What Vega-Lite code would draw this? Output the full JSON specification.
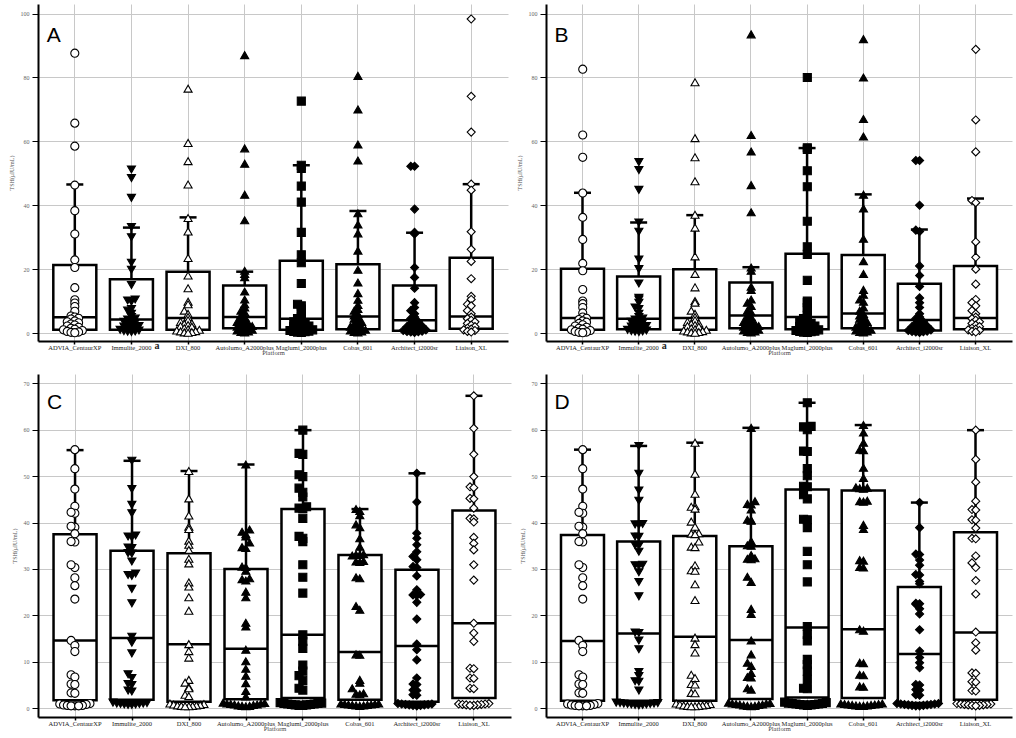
{
"$schema": "https://vega.github.io/schema/vega-lite/v6.json",
"background": "white",
"padding": {"left": 8, "top": 4, "right": 2, "bottom": 0},
"config": {
 "view": {"stroke": null},
 "axis": {"labelFont": "Liberation Serif", "titleFont": "Liberation Serif", "titleFontWeight": "normal", "gridColor": "#c8c8c8", "gridWidth": 1, "domainColor": "#000000", "domainWidth": 2, "tickColor": "#000000"},
 "axisX": {"labelFontSize": 6.5, "labelColor": "#222222", "labelPadding": 0, "tickSize": 3, "tickWidth": 1.5, "bandPosition": 0.5, "titleFontSize": 6.5, "titlePadding": -1, "titleColor": "#444444", "labelAngle": 0, "labelLimit": 200, "labelOverlap": false, "grid": true},
 "axisY": {"labelFontSize": 6, "labelColor": "#666666", "titleFontSize": 6, "titleColor": "#555555", "labelPadding": 3, "titlePadding": 6}
},
"datasets": {
 "plat": [{"c":"AD","g":"ADVIA_CentaurXP"},{"c":"IM","g":"Immulite_2000"},{"c":"DX","g":"DXI_800"},{"c":"AU","g":"Autolumo_A2000plus"},{"c":"MA","g":"Maglumi_2000plus"},{"c":"CO","g":"Cobas_601"},{"c":"AR","g":"Architect_i2000sr"},{"c":"LI","g":"Liaison_XL"}],
 "box": [
  {"p":"A","g":"ADVIA_CentaurXP","q1":1.0,"med":4.9,"q3":21.3,"hi":46.5},
  {"p":"A","g":"Immulite_2000","q1":1.0,"med":4.2,"q3":16.8,"hi":33.0},
  {"p":"A","g":"DXI_800","q1":1.0,"med":4.7,"q3":19.2,"hi":36.2},
  {"p":"A","g":"Autolumo_A2000plus","q1":1.5,"med":5.0,"q3":14.9,"hi":19.2},
  {"p":"A","g":"Maglumi_2000plus","q1":1.0,"med":4.5,"q3":22.6,"hi":52.5},
  {"p":"A","g":"Cobas_601","q1":1.2,"med":5.2,"q3":21.5,"hi":38.2},
  {"p":"A","g":"Architect_i2000sr","q1":0.7,"med":4.0,"q3":14.9,"hi":31.4},
  {"p":"A","g":"Liaison_XL","q1":1.3,"med":5.2,"q3":23.6,"hi":46.6},
  {"p":"B","g":"ADVIA_CentaurXP","q1":1.0,"med":4.7,"q3":20.1,"hi":43.9},
  {"p":"B","g":"Immulite_2000","q1":1.2,"med":4.5,"q3":17.7,"hi":34.6},
  {"p":"B","g":"DXI_800","q1":1.0,"med":4.7,"q3":20.0,"hi":36.9},
  {"p":"B","g":"Autolumo_A2000plus","q1":1.5,"med":5.5,"q3":15.8,"hi":20.6},
  {"p":"B","g":"Maglumi_2000plus","q1":1.2,"med":5.0,"q3":24.8,"hi":57.9},
  {"p":"B","g":"Cobas_601","q1":1.5,"med":6.1,"q3":24.4,"hi":43.4},
  {"p":"B","g":"Architect_i2000sr","q1":0.8,"med":4.1,"q3":15.4,"hi":32.4},
  {"p":"B","g":"Liaison_XL","q1":1.2,"med":4.7,"q3":21.0,"hi":42.1},
  {"p":"C","g":"ADVIA_CentaurXP","q1":1.7,"med":14.6,"q3":37.5,"hi":55.6},
  {"p":"C","g":"Immulite_2000","q1":1.8,"med":15.1,"q3":33.9,"hi":53.3},
  {"p":"C","g":"DXI_800","q1":1.4,"med":13.8,"q3":33.4,"hi":51.1},
  {"p":"C","g":"Autolumo_A2000plus","q1":1.9,"med":12.8,"q3":30.0,"hi":52.5},
  {"p":"C","g":"Maglumi_2000plus","q1":2.2,"med":15.8,"q3":42.9,"hi":59.9},
  {"p":"C","g":"Cobas_601","q1":1.8,"med":12.1,"q3":33.0,"hi":42.9},
  {"p":"C","g":"Architect_i2000sr","q1":1.4,"med":13.4,"q3":29.8,"hi":50.6},
  {"p":"C","g":"Liaison_XL","q1":2.2,"med":18.3,"q3":42.6,"hi":67.3},
  {"p":"D","g":"ADVIA_CentaurXP","q1":1.6,"med":14.5,"q3":37.3,"hi":55.7},
  {"p":"D","g":"Immulite_2000","q1":1.6,"med":16.1,"q3":35.9,"hi":56.5},
  {"p":"D","g":"DXI_800","q1":1.6,"med":15.4,"q3":37.1,"hi":57.2},
  {"p":"D","g":"Autolumo_A2000plus","q1":2.0,"med":14.7,"q3":34.9,"hi":60.4},
  {"p":"D","g":"Maglumi_2000plus","q1":2.3,"med":17.4,"q3":47.1,"hi":65.8},
  {"p":"D","g":"Cobas_601","q1":2.2,"med":17.0,"q3":46.9,"hi":61.0},
  {"p":"D","g":"Architect_i2000sr","q1":1.1,"med":11.7,"q3":26.1,"hi":44.3},
  {"p":"D","g":"Liaison_XL","q1":1.8,"med":16.3,"q3":37.9,"hi":59.9}
 ],
 "A": [
  {"c":"AD","v":87.6},{"c":"AD","v":65.7},{"c":"AD","v":58.5},{"c":"AD","v":46.3},{"c":"AD","v":38.3},{"c":"AD","v":31.0},{"c":"AD","v":22.9},{"c":"AD","v":20.5},{"c":"AD","v":14.2},{"c":"AD","v":10.4},{"c":"AD","v":9.4},{"c":"AD","v":8.3},{"c":"AD","v":6.8},{"c":"AD","v":5.3},{"c":"AD","v":5.0},{"c":"AD","v":4.6},{"c":"AD","v":4.4},{"c":"AD","v":3.8},{"c":"AD","v":3.5},{"c":"AD","v":3.2},{"c":"AD","v":2.8},{"c":"AD","v":2.5},{"c":"AD","v":2.2},{"c":"AD","v":1.8},{"c":"AD","v":1.5},{"c":"AD","v":1.2},{"c":"AD","v":1.0},{"c":"AD","v":0.8},{"c":"AD","v":0.5},{"c":"AD","v":0.3},{"c":"AD","v":0.2},{"c":"AD","v":0.1},
  {"c":"IM","v":51.2},{"c":"IM","v":48.5},{"c":"IM","v":42.3},{"c":"IM","v":33.2},{"c":"IM","v":30.0},{"c":"IM","v":22.0},{"c":"IM","v":19.8},{"c":"IM","v":15.0},{"c":"IM","v":10.5},{"c":"IM","v":10.2},{"c":"IM","v":9.8},{"c":"IM","v":7.5},{"c":"IM","v":7.0},{"c":"IM","v":6.0},{"c":"IM","v":5.0},{"c":"IM","v":4.5},{"c":"IM","v":4.2},{"c":"IM","v":4.0},{"c":"IM","v":3.5},{"c":"IM","v":3.2},{"c":"IM","v":3.0},{"c":"IM","v":2.6},{"c":"IM","v":2.2},{"c":"IM","v":2.0},{"c":"IM","v":1.8},{"c":"IM","v":1.5},{"c":"IM","v":1.2},{"c":"IM","v":1.0},{"c":"IM","v":0.8},{"c":"IM","v":0.6},{"c":"IM","v":0.5},{"c":"IM","v":0.4},{"c":"IM","v":0.3},
  {"c":"DX","v":76.5},{"c":"DX","v":59.5},{"c":"DX","v":53.8},{"c":"DX","v":46.5},{"c":"DX","v":36.0},{"c":"DX","v":31.8},{"c":"DX","v":23.5},{"c":"DX","v":18.0},{"c":"DX","v":14.0},{"c":"DX","v":9.8},{"c":"DX","v":9.0},{"c":"DX","v":7.0},{"c":"DX","v":6.0},{"c":"DX","v":5.0},{"c":"DX","v":4.0},{"c":"DX","v":3.5},{"c":"DX","v":3.0},{"c":"DX","v":2.8},{"c":"DX","v":2.5},{"c":"DX","v":2.2},{"c":"DX","v":2.0},{"c":"DX","v":1.5},{"c":"DX","v":1.2},{"c":"DX","v":1.0},{"c":"DX","v":0.8},{"c":"DX","v":0.6},{"c":"DX","v":0.5},{"c":"DX","v":0.3},{"c":"DX","v":0.2},{"c":"DX","v":0.1},
  {"c":"AU","v":87.0},{"c":"AU","v":57.8},{"c":"AU","v":53.0},{"c":"AU","v":43.3},{"c":"AU","v":35.3},{"c":"AU","v":19.5},{"c":"AU","v":18.5},{"c":"AU","v":17.5},{"c":"AU","v":13.0},{"c":"AU","v":10.5},{"c":"AU","v":9.0},{"c":"AU","v":8.0},{"c":"AU","v":7.0},{"c":"AU","v":6.5},{"c":"AU","v":5.5},{"c":"AU","v":5.0},{"c":"AU","v":4.5},{"c":"AU","v":4.0},{"c":"AU","v":3.5},{"c":"AU","v":3.0},{"c":"AU","v":2.8},{"c":"AU","v":2.5},{"c":"AU","v":2.2},{"c":"AU","v":2.0},{"c":"AU","v":1.8},{"c":"AU","v":1.5},{"c":"AU","v":1.2},{"c":"AU","v":1.0},{"c":"AU","v":0.8},{"c":"AU","v":0.5},{"c":"AU","v":0.3},{"c":"AU","v":0.2},
  {"c":"MA","v":72.6},{"c":"MA","v":52.5},{"c":"MA","v":51.5},{"c":"MA","v":46.0},{"c":"MA","v":41.0},{"c":"MA","v":31.5},{"c":"MA","v":24.5},{"c":"MA","v":22.0},{"c":"MA","v":15.5},{"c":"MA","v":9.0},{"c":"MA","v":8.5},{"c":"MA","v":7.5},{"c":"MA","v":6.5},{"c":"MA","v":5.0},{"c":"MA","v":4.5},{"c":"MA","v":4.0},{"c":"MA","v":3.5},{"c":"MA","v":3.0},{"c":"MA","v":2.8},{"c":"MA","v":2.5},{"c":"MA","v":2.2},{"c":"MA","v":2.0},{"c":"MA","v":1.8},{"c":"MA","v":1.5},{"c":"MA","v":1.2},{"c":"MA","v":1.0},{"c":"MA","v":0.8},{"c":"MA","v":0.6},{"c":"MA","v":0.5},{"c":"MA","v":0.4},{"c":"MA","v":0.3},{"c":"MA","v":0.2},
  {"c":"CO","v":80.5},{"c":"CO","v":70.0},{"c":"CO","v":59.0},{"c":"CO","v":54.0},{"c":"CO","v":37.5},{"c":"CO","v":34.0},{"c":"CO","v":31.2},{"c":"CO","v":25.8},{"c":"CO","v":19.8},{"c":"CO","v":15.8},{"c":"CO","v":12.5},{"c":"CO","v":10.4},{"c":"CO","v":8.8},{"c":"CO","v":7.5},{"c":"CO","v":7.0},{"c":"CO","v":6.0},{"c":"CO","v":5.5},{"c":"CO","v":5.0},{"c":"CO","v":4.5},{"c":"CO","v":4.0},{"c":"CO","v":3.5},{"c":"CO","v":3.0},{"c":"CO","v":2.5},{"c":"CO","v":2.0},{"c":"CO","v":1.8},{"c":"CO","v":1.5},{"c":"CO","v":1.2},{"c":"CO","v":1.0},{"c":"CO","v":0.8},{"c":"CO","v":0.5},{"c":"CO","v":0.3},{"c":"CO","v":0.2},
  {"c":"AR","v":52.2},{"c":"AR","v":52.2},{"c":"AR","v":38.8},{"c":"AR","v":31.0},{"c":"AR","v":31.5},{"c":"AR","v":20.5},{"c":"AR","v":17.4},{"c":"AR","v":14.0},{"c":"AR","v":9.5},{"c":"AR","v":8.0},{"c":"AR","v":7.0},{"c":"AR","v":6.0},{"c":"AR","v":5.0},{"c":"AR","v":4.5},{"c":"AR","v":4.0},{"c":"AR","v":3.5},{"c":"AR","v":3.0},{"c":"AR","v":2.5},{"c":"AR","v":2.2},{"c":"AR","v":2.0},{"c":"AR","v":1.8},{"c":"AR","v":1.5},{"c":"AR","v":1.2},{"c":"AR","v":1.0},{"c":"AR","v":0.8},{"c":"AR","v":0.6},{"c":"AR","v":0.5},{"c":"AR","v":0.4},{"c":"AR","v":0.3},{"c":"AR","v":0.2},
  {"c":"LI","v":98.3},{"c":"LI","v":74.1},{"c":"LI","v":62.9},{"c":"LI","v":46.6},{"c":"LI","v":44.7},{"c":"LI","v":31.7},{"c":"LI","v":26.2},{"c":"LI","v":22.4},{"c":"LI","v":17.0},{"c":"LI","v":11.5},{"c":"LI","v":10.5},{"c":"LI","v":9.0},{"c":"LI","v":8.5},{"c":"LI","v":7.0},{"c":"LI","v":6.0},{"c":"LI","v":5.0},{"c":"LI","v":4.5},{"c":"LI","v":4.0},{"c":"LI","v":3.5},{"c":"LI","v":3.0},{"c":"LI","v":2.5},{"c":"LI","v":2.0},{"c":"LI","v":1.5},{"c":"LI","v":1.2},{"c":"LI","v":1.0},{"c":"LI","v":0.8},{"c":"LI","v":0.5},{"c":"LI","v":0.3}
 ],
 "B": [
  {"c":"AD","v":82.6},{"c":"AD","v":62.0},{"c":"AD","v":55.0},{"c":"AD","v":43.8},{"c":"AD","v":36.2},{"c":"AD","v":29.3},{"c":"AD","v":21.8},{"c":"AD","v":19.5},{"c":"AD","v":13.6},{"c":"AD","v":10.0},{"c":"AD","v":9.2},{"c":"AD","v":8.0},{"c":"AD","v":6.3},{"c":"AD","v":5.0},{"c":"AD","v":4.6},{"c":"AD","v":4.2},{"c":"AD","v":3.8},{"c":"AD","v":3.4},{"c":"AD","v":3.0},{"c":"AD","v":2.6},{"c":"AD","v":2.2},{"c":"AD","v":1.8},{"c":"AD","v":1.5},{"c":"AD","v":1.2},{"c":"AD","v":1.0},{"c":"AD","v":0.8},{"c":"AD","v":0.5},{"c":"AD","v":0.3},{"c":"AD","v":0.2},{"c":"AD","v":0.1},
  {"c":"IM","v":53.5},{"c":"IM","v":51.0},{"c":"IM","v":44.8},{"c":"IM","v":34.6},{"c":"IM","v":31.7},{"c":"IM","v":23.0},{"c":"IM","v":20.0},{"c":"IM","v":15.5},{"c":"IM","v":11.0},{"c":"IM","v":10.5},{"c":"IM","v":9.5},{"c":"IM","v":8.0},{"c":"IM","v":7.5},{"c":"IM","v":6.0},{"c":"IM","v":5.0},{"c":"IM","v":4.5},{"c":"IM","v":4.2},{"c":"IM","v":4.0},{"c":"IM","v":3.5},{"c":"IM","v":3.2},{"c":"IM","v":3.0},{"c":"IM","v":2.6},{"c":"IM","v":2.2},{"c":"IM","v":2.0},{"c":"IM","v":1.8},{"c":"IM","v":1.5},{"c":"IM","v":1.2},{"c":"IM","v":1.0},{"c":"IM","v":0.8},{"c":"IM","v":0.6},{"c":"IM","v":0.5},{"c":"IM","v":0.4},{"c":"IM","v":0.3},
  {"c":"DX","v":78.5},{"c":"DX","v":61.0},{"c":"DX","v":55.0},{"c":"DX","v":47.5},{"c":"DX","v":37.0},{"c":"DX","v":33.0},{"c":"DX","v":24.0},{"c":"DX","v":18.5},{"c":"DX","v":14.3},{"c":"DX","v":10.0},{"c":"DX","v":9.5},{"c":"DX","v":7.0},{"c":"DX","v":6.0},{"c":"DX","v":5.0},{"c":"DX","v":4.0},{"c":"DX","v":3.5},{"c":"DX","v":3.0},{"c":"DX","v":2.8},{"c":"DX","v":2.5},{"c":"DX","v":2.2},{"c":"DX","v":2.0},{"c":"DX","v":1.5},{"c":"DX","v":1.2},{"c":"DX","v":1.0},{"c":"DX","v":0.8},{"c":"DX","v":0.6},{"c":"DX","v":0.5},{"c":"DX","v":0.3},{"c":"DX","v":0.2},{"c":"DX","v":0.1},
  {"c":"AU","v":93.5},{"c":"AU","v":62.0},{"c":"AU","v":56.8},{"c":"AU","v":46.3},{"c":"AU","v":37.8},{"c":"AU","v":20.5},{"c":"AU","v":19.5},{"c":"AU","v":14.5},{"c":"AU","v":13.5},{"c":"AU","v":10.5},{"c":"AU","v":9.5},{"c":"AU","v":8.5},{"c":"AU","v":7.0},{"c":"AU","v":6.5},{"c":"AU","v":5.5},{"c":"AU","v":5.0},{"c":"AU","v":4.5},{"c":"AU","v":4.0},{"c":"AU","v":3.5},{"c":"AU","v":3.0},{"c":"AU","v":2.8},{"c":"AU","v":2.5},{"c":"AU","v":2.2},{"c":"AU","v":2.0},{"c":"AU","v":1.8},{"c":"AU","v":1.5},{"c":"AU","v":1.2},{"c":"AU","v":1.0},{"c":"AU","v":0.8},{"c":"AU","v":0.5},{"c":"AU","v":0.3},{"c":"AU","v":0.2},
  {"c":"MA","v":80.0},{"c":"MA","v":58.0},{"c":"MA","v":57.5},{"c":"MA","v":50.8},{"c":"MA","v":45.8},{"c":"MA","v":35.0},{"c":"MA","v":27.0},{"c":"MA","v":24.6},{"c":"MA","v":16.5},{"c":"MA","v":10.0},{"c":"MA","v":9.5},{"c":"MA","v":8.0},{"c":"MA","v":7.0},{"c":"MA","v":5.5},{"c":"MA","v":4.5},{"c":"MA","v":4.0},{"c":"MA","v":3.5},{"c":"MA","v":3.0},{"c":"MA","v":2.8},{"c":"MA","v":2.5},{"c":"MA","v":2.2},{"c":"MA","v":2.0},{"c":"MA","v":1.8},{"c":"MA","v":1.5},{"c":"MA","v":1.2},{"c":"MA","v":1.0},{"c":"MA","v":0.8},{"c":"MA","v":0.6},{"c":"MA","v":0.5},{"c":"MA","v":0.4},{"c":"MA","v":0.3},{"c":"MA","v":0.2},
  {"c":"CO","v":92.0},{"c":"CO","v":80.0},{"c":"CO","v":67.0},{"c":"CO","v":61.5},{"c":"CO","v":43.3},{"c":"CO","v":39.0},{"c":"CO","v":29.5},{"c":"CO","v":22.5},{"c":"CO","v":18.5},{"c":"CO","v":13.5},{"c":"CO","v":12.0},{"c":"CO","v":10.5},{"c":"CO","v":9.8},{"c":"CO","v":8.0},{"c":"CO","v":7.0},{"c":"CO","v":6.0},{"c":"CO","v":5.5},{"c":"CO","v":5.0},{"c":"CO","v":4.5},{"c":"CO","v":4.0},{"c":"CO","v":3.5},{"c":"CO","v":3.0},{"c":"CO","v":2.5},{"c":"CO","v":2.0},{"c":"CO","v":1.8},{"c":"CO","v":1.5},{"c":"CO","v":1.2},{"c":"CO","v":1.0},{"c":"CO","v":0.8},{"c":"CO","v":0.5},{"c":"CO","v":0.3},{"c":"CO","v":0.2},
  {"c":"AR","v":54.0},{"c":"AR","v":54.0},{"c":"AR","v":40.0},{"c":"AR","v":32.2},{"c":"AR","v":31.8},{"c":"AR","v":21.0},{"c":"AR","v":18.0},{"c":"AR","v":14.6},{"c":"AR","v":11.0},{"c":"AR","v":9.5},{"c":"AR","v":8.0},{"c":"AR","v":6.0},{"c":"AR","v":5.0},{"c":"AR","v":4.5},{"c":"AR","v":4.0},{"c":"AR","v":3.5},{"c":"AR","v":3.0},{"c":"AR","v":2.5},{"c":"AR","v":2.2},{"c":"AR","v":2.0},{"c":"AR","v":1.8},{"c":"AR","v":1.5},{"c":"AR","v":1.2},{"c":"AR","v":1.0},{"c":"AR","v":0.8},{"c":"AR","v":0.6},{"c":"AR","v":0.5},{"c":"AR","v":0.4},{"c":"AR","v":0.3},{"c":"AR","v":0.2},
  {"c":"LI","v":88.8},{"c":"LI","v":66.7},{"c":"LI","v":56.7},{"c":"LI","v":41.5},{"c":"LI","v":40.8},{"c":"LI","v":28.5},{"c":"LI","v":23.7},{"c":"LI","v":20.0},{"c":"LI","v":15.3},{"c":"LI","v":10.5},{"c":"LI","v":9.5},{"c":"LI","v":8.5},{"c":"LI","v":7.0},{"c":"LI","v":6.0},{"c":"LI","v":5.0},{"c":"LI","v":4.5},{"c":"LI","v":4.0},{"c":"LI","v":3.5},{"c":"LI","v":3.0},{"c":"LI","v":2.5},{"c":"LI","v":2.0},{"c":"LI","v":1.5},{"c":"LI","v":1.2},{"c":"LI","v":1.0},{"c":"LI","v":0.8},{"c":"LI","v":0.5},{"c":"LI","v":0.3}
 ],
 "C": [
  {"c":"AD","v":55.7},{"c":"AD","v":51.6},{"c":"AD","v":47.2},{"c":"AD","v":43.5},{"c":"AD","v":42.0},{"c":"AD","v":42.2},{"c":"AD","v":39.0},{"c":"AD","v":39.2},{"c":"AD","v":37.6},{"c":"AD","v":35.8},{"c":"AD","v":35.9},{"c":"AD","v":30.3},{"c":"AD","v":30.9},{"c":"AD","v":28.1},{"c":"AD","v":26.4},{"c":"AD","v":23.5},{"c":"AD","v":14.6},{"c":"AD","v":13.5},{"c":"AD","v":12.2},{"c":"AD","v":7.2},{"c":"AD","v":6.7},{"c":"AD","v":5.2},{"c":"AD","v":5.1},{"c":"AD","v":3.3},{"c":"AD","v":3.2},{"c":"AD","v":1.0},{"c":"AD","v":0.9},{"c":"AD","v":0.8},{"c":"AD","v":0.7},{"c":"AD","v":0.6},{"c":"AD","v":0.6},{"c":"AD","v":0.5},{"c":"AD","v":0.5},{"c":"AD","v":0.5},
  {"c":"IM","v":53.3},{"c":"IM","v":47.2},{"c":"IM","v":43.8},{"c":"IM","v":42.0},{"c":"IM","v":37.0},{"c":"IM","v":36.8},{"c":"IM","v":37.2},{"c":"IM","v":34.6},{"c":"IM","v":34.5},{"c":"IM","v":33.4},{"c":"IM","v":33.3},{"c":"IM","v":31.6},{"c":"IM","v":28.7},{"c":"IM","v":28.5},{"c":"IM","v":29.0},{"c":"IM","v":25.7},{"c":"IM","v":22.6},{"c":"IM","v":15.4},{"c":"IM","v":14.1},{"c":"IM","v":11.8},{"c":"IM","v":7.3},{"c":"IM","v":6.5},{"c":"IM","v":5.2},{"c":"IM","v":5.0},{"c":"IM","v":3.6},{"c":"IM","v":3.8},{"c":"IM","v":1.2},{"c":"IM","v":1.1},{"c":"IM","v":1.0},{"c":"IM","v":1.0},{"c":"IM","v":0.9},{"c":"IM","v":0.9},{"c":"IM","v":0.8},{"c":"IM","v":0.8},{"c":"IM","v":0.7},{"c":"IM","v":0.7},
  {"c":"DX","v":51.1},{"c":"DX","v":45.2},{"c":"DX","v":41.5},{"c":"DX","v":39.1},{"c":"DX","v":38.6},{"c":"DX","v":36.1},{"c":"DX","v":35.2},{"c":"DX","v":34.1},{"c":"DX","v":32.2},{"c":"DX","v":31.2},{"c":"DX","v":27.1},{"c":"DX","v":26.2},{"c":"DX","v":23.9},{"c":"DX","v":21.0},{"c":"DX","v":13.8},{"c":"DX","v":12.3},{"c":"DX","v":10.9},{"c":"DX","v":6.1},{"c":"DX","v":5.5},{"c":"DX","v":4.5},{"c":"DX","v":4.3},{"c":"DX","v":2.9},{"c":"DX","v":2.6},{"c":"DX","v":1.0},{"c":"DX","v":0.9},{"c":"DX","v":0.8},{"c":"DX","v":0.7},{"c":"DX","v":0.6},{"c":"DX","v":0.6},{"c":"DX","v":0.5},{"c":"DX","v":0.5},{"c":"DX","v":0.4},{"c":"DX","v":0.4},
  {"c":"AU","v":52.5},{"c":"AU","v":38.5},{"c":"AU","v":38.0},{"c":"AU","v":37.5},{"c":"AU","v":37.0},{"c":"AU","v":35.7},{"c":"AU","v":34.7},{"c":"AU","v":34.5},{"c":"AU","v":30.5},{"c":"AU","v":30.4},{"c":"AU","v":29.6},{"c":"AU","v":28.0},{"c":"AU","v":27.8},{"c":"AU","v":27.5},{"c":"AU","v":25.1},{"c":"AU","v":23.9},{"c":"AU","v":18.4},{"c":"AU","v":17.6},{"c":"AU","v":12.6},{"c":"AU","v":10.1},{"c":"AU","v":8.5},{"c":"AU","v":7.0},{"c":"AU","v":5.4},{"c":"AU","v":3.7},{"c":"AU","v":2.5},{"c":"AU","v":1.2},{"c":"AU","v":1.1},{"c":"AU","v":1.0},{"c":"AU","v":1.0},{"c":"AU","v":0.9},{"c":"AU","v":0.8},{"c":"AU","v":0.8},{"c":"AU","v":0.7},{"c":"AU","v":0.6},{"c":"AU","v":0.5},{"c":"AU","v":0.5},{"c":"AU","v":0.4},
  {"c":"MA","v":59.9},{"c":"MA","v":54.9},{"c":"MA","v":54.7},{"c":"MA","v":50.3},{"c":"MA","v":49.9},{"c":"MA","v":47.4},{"c":"MA","v":46.5},{"c":"MA","v":45.5},{"c":"MA","v":43.4},{"c":"MA","v":43.1},{"c":"MA","v":43.0},{"c":"MA","v":40.9},{"c":"MA","v":37.0},{"c":"MA","v":36.6},{"c":"MA","v":35.9},{"c":"MA","v":30.9},{"c":"MA","v":28.2},{"c":"MA","v":24.8},{"c":"MA","v":15.8},{"c":"MA","v":14.4},{"c":"MA","v":12.9},{"c":"MA","v":9.3},{"c":"MA","v":8.0},{"c":"MA","v":7.0},{"c":"MA","v":6.0},{"c":"MA","v":4.3},{"c":"MA","v":3.9},{"c":"MA","v":1.2},{"c":"MA","v":1.1},{"c":"MA","v":1.0},{"c":"MA","v":1.0},{"c":"MA","v":0.9},{"c":"MA","v":0.9},{"c":"MA","v":0.8},{"c":"MA","v":0.8},{"c":"MA","v":0.7},{"c":"MA","v":0.7},{"c":"MA","v":0.6},{"c":"MA","v":0.6},
  {"c":"CO","v":42.9},{"c":"CO","v":42.5},{"c":"CO","v":41.6},{"c":"CO","v":39.6},{"c":"CO","v":39.0},{"c":"CO","v":36.6},{"c":"CO","v":34.8},{"c":"CO","v":33.0},{"c":"CO","v":33.1},{"c":"CO","v":32.9},{"c":"CO","v":33.2},{"c":"CO","v":31.6},{"c":"CO","v":31.5},{"c":"CO","v":31.7},{"c":"CO","v":28.0},{"c":"CO","v":28.2},{"c":"CO","v":21.2},{"c":"CO","v":22.0},{"c":"CO","v":11.5},{"c":"CO","v":11.6},{"c":"CO","v":6.1},{"c":"CO","v":5.5},{"c":"CO","v":4.3},{"c":"CO","v":3.2},{"c":"CO","v":3.1},{"c":"CO","v":3.0},{"c":"CO","v":1.0},{"c":"CO","v":1.0},{"c":"CO","v":0.9},{"c":"CO","v":0.9},{"c":"CO","v":0.8},{"c":"CO","v":0.8},{"c":"CO","v":0.7},{"c":"CO","v":0.7},{"c":"CO","v":0.6},{"c":"CO","v":0.6},{"c":"CO","v":0.5},
  {"c":"AR","v":50.6},{"c":"AR","v":44.4},{"c":"AR","v":37.7},{"c":"AR","v":36.6},{"c":"AR","v":35.2},{"c":"AR","v":33.7},{"c":"AR","v":32.7},{"c":"AR","v":32.0},{"c":"AR","v":30.5},{"c":"AR","v":30.3},{"c":"AR","v":28.5},{"c":"AR","v":25.5},{"c":"AR","v":24.4},{"c":"AR","v":24.3},{"c":"AR","v":24.5},{"c":"AR","v":22.8},{"c":"AR","v":19.2},{"c":"AR","v":13.8},{"c":"AR","v":12.6},{"c":"AR","v":10.4},{"c":"AR","v":6.5},{"c":"AR","v":5.2},{"c":"AR","v":5.1},{"c":"AR","v":3.9},{"c":"AR","v":3.8},{"c":"AR","v":2.9},{"c":"AR","v":2.8},{"c":"AR","v":1.0},{"c":"AR","v":0.9},{"c":"AR","v":0.9},{"c":"AR","v":0.8},{"c":"AR","v":0.8},{"c":"AR","v":0.7},{"c":"AR","v":0.7},{"c":"AR","v":0.6},{"c":"AR","v":0.6},{"c":"AR","v":0.5},
  {"c":"LI","v":67.3},{"c":"LI","v":60.3},{"c":"LI","v":54.7},{"c":"LI","v":49.9},{"c":"LI","v":47.7},{"c":"LI","v":47.5},{"c":"LI","v":45.2},{"c":"LI","v":45.1},{"c":"LI","v":43.1},{"c":"LI","v":40.9},{"c":"LI","v":40.8},{"c":"LI","v":40.1},{"c":"LI","v":36.8},{"c":"LI","v":35.5},{"c":"LI","v":34.1},{"c":"LI","v":30.9},{"c":"LI","v":27.6},{"c":"LI","v":18.3},{"c":"LI","v":16.2},{"c":"LI","v":14.4},{"c":"LI","v":8.6},{"c":"LI","v":8.5},{"c":"LI","v":6.5},{"c":"LI","v":6.4},{"c":"LI","v":4.3},{"c":"LI","v":4.2},{"c":"LI","v":1.0},{"c":"LI","v":0.9},{"c":"LI","v":0.9},{"c":"LI","v":0.8},{"c":"LI","v":0.8},{"c":"LI","v":0.7},{"c":"LI","v":0.7},{"c":"LI","v":0.6},{"c":"LI","v":0.6}
 ],
 "D": [
  {"c":"AD","v":55.7},{"c":"AD","v":51.6},{"c":"AD","v":47.2},{"c":"AD","v":43.5},{"c":"AD","v":42.0},{"c":"AD","v":42.2},{"c":"AD","v":39.0},{"c":"AD","v":39.2},{"c":"AD","v":37.6},{"c":"AD","v":35.8},{"c":"AD","v":35.9},{"c":"AD","v":30.3},{"c":"AD","v":30.9},{"c":"AD","v":28.1},{"c":"AD","v":26.4},{"c":"AD","v":23.5},{"c":"AD","v":14.6},{"c":"AD","v":13.5},{"c":"AD","v":12.2},{"c":"AD","v":7.2},{"c":"AD","v":6.7},{"c":"AD","v":5.2},{"c":"AD","v":5.1},{"c":"AD","v":3.3},{"c":"AD","v":3.2},{"c":"AD","v":1.0},{"c":"AD","v":0.9},{"c":"AD","v":0.8},{"c":"AD","v":0.7},{"c":"AD","v":0.6},{"c":"AD","v":0.6},{"c":"AD","v":0.5},{"c":"AD","v":0.5},{"c":"AD","v":0.5},
  {"c":"IM","v":56.5},{"c":"IM","v":50.5},{"c":"IM","v":46.9},{"c":"IM","v":44.7},{"c":"IM","v":39.6},{"c":"IM","v":39.5},{"c":"IM","v":39.7},{"c":"IM","v":37.0},{"c":"IM","v":36.9},{"c":"IM","v":35.1},{"c":"IM","v":35.0},{"c":"IM","v":33.7},{"c":"IM","v":30.8},{"c":"IM","v":30.7},{"c":"IM","v":30.9},{"c":"IM","v":29.3},{"c":"IM","v":27.2},{"c":"IM","v":24.1},{"c":"IM","v":16.3},{"c":"IM","v":16.2},{"c":"IM","v":14.6},{"c":"IM","v":12.7},{"c":"IM","v":7.8},{"c":"IM","v":6.9},{"c":"IM","v":5.8},{"c":"IM","v":5.7},{"c":"IM","v":3.8},{"c":"IM","v":1.2},{"c":"IM","v":1.1},{"c":"IM","v":1.1},{"c":"IM","v":1.0},{"c":"IM","v":1.0},{"c":"IM","v":0.9},{"c":"IM","v":0.9},{"c":"IM","v":0.8},{"c":"IM","v":0.8},{"c":"IM","v":0.7},{"c":"IM","v":0.7},{"c":"IM","v":0.6},
  {"c":"DX","v":57.2},{"c":"DX","v":50.5},{"c":"DX","v":46.2},{"c":"DX","v":43.5},{"c":"DX","v":43.4},{"c":"DX","v":43.0},{"c":"DX","v":40.2},{"c":"DX","v":39.1},{"c":"DX","v":37.7},{"c":"DX","v":37.6},{"c":"DX","v":37.5},{"c":"DX","v":35.9},{"c":"DX","v":34.8},{"c":"DX","v":34.7},{"c":"DX","v":30.8},{"c":"DX","v":29.7},{"c":"DX","v":29.6},{"c":"DX","v":26.7},{"c":"DX","v":23.3},{"c":"DX","v":15.2},{"c":"DX","v":13.8},{"c":"DX","v":12.0},{"c":"DX","v":7.2},{"c":"DX","v":6.5},{"c":"DX","v":5.2},{"c":"DX","v":5.1},{"c":"DX","v":3.3},{"c":"DX","v":3.2},{"c":"DX","v":1.0},{"c":"DX","v":0.9},{"c":"DX","v":0.8},{"c":"DX","v":0.7},{"c":"DX","v":0.6},{"c":"DX","v":0.6},{"c":"DX","v":0.5},{"c":"DX","v":0.5},{"c":"DX","v":0.4},{"c":"DX","v":0.4},
  {"c":"AU","v":60.4},{"c":"AU","v":44.6},{"c":"AU","v":44.0},{"c":"AU","v":43.9},{"c":"AU","v":42.8},{"c":"AU","v":40.6},{"c":"AU","v":40.5},{"c":"AU","v":40.4},{"c":"AU","v":36.0},{"c":"AU","v":35.1},{"c":"AU","v":35.0},{"c":"AU","v":33.0},{"c":"AU","v":32.2},{"c":"AU","v":32.1},{"c":"AU","v":32.3},{"c":"AU","v":28.3},{"c":"AU","v":27.2},{"c":"AU","v":21.4},{"c":"AU","v":20.3},{"c":"AU","v":14.6},{"c":"AU","v":11.6},{"c":"AU","v":9.8},{"c":"AU","v":9.1},{"c":"AU","v":7.6},{"c":"AU","v":6.7},{"c":"AU","v":6.6},{"c":"AU","v":4.3},{"c":"AU","v":4.0},{"c":"AU","v":1.2},{"c":"AU","v":1.1},{"c":"AU","v":1.0},{"c":"AU","v":1.0},{"c":"AU","v":0.9},{"c":"AU","v":0.8},{"c":"AU","v":0.8},{"c":"AU","v":0.7},{"c":"AU","v":0.6},{"c":"AU","v":0.5},{"c":"AU","v":0.5},{"c":"AU","v":0.4},
  {"c":"MA","v":65.8},{"c":"MA","v":60.7},{"c":"MA","v":60.6},{"c":"MA","v":60.0},{"c":"MA","v":55.4},{"c":"MA","v":55.3},{"c":"MA","v":51.6},{"c":"MA","v":50.1},{"c":"MA","v":47.8},{"c":"MA","v":47.7},{"c":"MA","v":46.0},{"c":"MA","v":45.1},{"c":"MA","v":40.7},{"c":"MA","v":40.6},{"c":"MA","v":38.9},{"c":"MA","v":33.8},{"c":"MA","v":30.9},{"c":"MA","v":27.2},{"c":"MA","v":17.6},{"c":"MA","v":15.9},{"c":"MA","v":14.5},{"c":"MA","v":10.5},{"c":"MA","v":9.4},{"c":"MA","v":8.0},{"c":"MA","v":6.2},{"c":"MA","v":4.3},{"c":"MA","v":4.2},{"c":"MA","v":1.3},{"c":"MA","v":1.2},{"c":"MA","v":1.1},{"c":"MA","v":1.0},{"c":"MA","v":1.0},{"c":"MA","v":0.9},{"c":"MA","v":0.9},{"c":"MA","v":0.8},{"c":"MA","v":0.8},{"c":"MA","v":0.7},{"c":"MA","v":0.7},{"c":"MA","v":0.6},
  {"c":"CO","v":61.0},{"c":"CO","v":59.4},{"c":"CO","v":57.2},{"c":"CO","v":55.7},{"c":"CO","v":55.6},{"c":"CO","v":51.8},{"c":"CO","v":49.6},{"c":"CO","v":47.5},{"c":"CO","v":47.4},{"c":"CO","v":47.3},{"c":"CO","v":47.6},{"c":"CO","v":44.6},{"c":"CO","v":44.5},{"c":"CO","v":44.7},{"c":"CO","v":39.5},{"c":"CO","v":38.6},{"c":"CO","v":31.9},{"c":"CO","v":31.8},{"c":"CO","v":30.4},{"c":"CO","v":30.3},{"c":"CO","v":17.0},{"c":"CO","v":16.7},{"c":"CO","v":9.8},{"c":"CO","v":9.7},{"c":"CO","v":7.2},{"c":"CO","v":7.1},{"c":"CO","v":4.7},{"c":"CO","v":4.6},{"c":"CO","v":1.0},{"c":"CO","v":1.0},{"c":"CO","v":0.9},{"c":"CO","v":0.9},{"c":"CO","v":0.8},{"c":"CO","v":0.8},{"c":"CO","v":0.7},{"c":"CO","v":0.7},{"c":"CO","v":0.6},{"c":"CO","v":0.6},{"c":"CO","v":0.5},{"c":"CO","v":0.5},
  {"c":"AR","v":44.3},{"c":"AR","v":38.9},{"c":"AR","v":33.2},{"c":"AR","v":33.1},{"c":"AR","v":31.9},{"c":"AR","v":30.8},{"c":"AR","v":28.8},{"c":"AR","v":28.7},{"c":"AR","v":27.3},{"c":"AR","v":26.8},{"c":"AR","v":22.5},{"c":"AR","v":22.4},{"c":"AR","v":22.6},{"c":"AR","v":21.4},{"c":"AR","v":20.3},{"c":"AR","v":16.9},{"c":"AR","v":12.3},{"c":"AR","v":10.9},{"c":"AR","v":9.8},{"c":"AR","v":8.7},{"c":"AR","v":5.1},{"c":"AR","v":5.0},{"c":"AR","v":4.0},{"c":"AR","v":3.9},{"c":"AR","v":2.9},{"c":"AR","v":2.8},{"c":"AR","v":1.0},{"c":"AR","v":1.0},{"c":"AR","v":0.9},{"c":"AR","v":0.9},{"c":"AR","v":0.8},{"c":"AR","v":0.8},{"c":"AR","v":0.7},{"c":"AR","v":0.7},{"c":"AR","v":0.6},{"c":"AR","v":0.6},{"c":"AR","v":0.5},{"c":"AR","v":0.5},
  {"c":"LI","v":59.9},{"c":"LI","v":53.6},{"c":"LI","v":48.7},{"c":"LI","v":44.6},{"c":"LI","v":42.8},{"c":"LI","v":42.7},{"c":"LI","v":40.6},{"c":"LI","v":40.5},{"c":"LI","v":38.8},{"c":"LI","v":36.6},{"c":"LI","v":36.5},{"c":"LI","v":32.8},{"c":"LI","v":31.3},{"c":"LI","v":30.3},{"c":"LI","v":27.5},{"c":"LI","v":24.6},{"c":"LI","v":16.4},{"c":"LI","v":14.1},{"c":"LI","v":12.5},{"c":"LI","v":7.6},{"c":"LI","v":7.5},{"c":"LI","v":5.7},{"c":"LI","v":5.6},{"c":"LI","v":3.8},{"c":"LI","v":3.7},{"c":"LI","v":1.0},{"c":"LI","v":0.9},{"c":"LI","v":0.9},{"c":"LI","v":0.8},{"c":"LI","v":0.8},{"c":"LI","v":0.7},{"c":"LI","v":0.7},{"c":"LI","v":0.6},{"c":"LI","v":0.6},{"c":"LI","v":0.5}
 ]
},
"vconcat": [
 {"hconcat": [
  {"width": 470, "height": 337,
   "encoding": {"x": {"field": "g", "type": "nominal", "title": "Platform", "scale": {"domain": ["ADVIA_CentaurXP","Immulite_2000","DXI_800","Autolumo_A2000plus","Maglumi_2000plus","Cobas_601","Architect_i2000sr","Liaison_XL"], "paddingInner": 0, "paddingOuter": 0.15}}},
   "layer": [
    {"data": {"name": "box"}, "transform": [{"filter": "datum.p == 'A'"}], "mark": {"type": "bar", "size": 43, "fill": "white", "stroke": "black", "strokeWidth": 2.5}, "encoding": {"y": {"field": "q1", "type": "quantitative", "title": "TSH(μIU/mL)", "scale": {"domain": [-2.5, 103], "nice": false, "zero": false}, "axis": {"values": [0,10,20,30,40,50,60,70,80,90,100], "labelExpr": "datum.value % 20 == 0 ? datum.label : ''", "tickSize": {"condition": {"test": "datum.value % 20 != 0", "value": 3}, "value": 6}, "gridOpacity": {"condition": {"test": "datum.value % 20 != 0", "value": 0}, "value": 1}}}, "y2": {"field": "q3"}}},
    {"data": {"name": "box"}, "transform": [{"filter": "datum.p == 'A'"}], "mark": {"type": "rule", "strokeWidth": 2.5, "color": "black"}, "encoding": {"y": {"field": "q3", "type": "quantitative", "title": "TSH(μIU/mL)", "scale": {"domain": [-2.5, 103], "nice": false, "zero": false}}, "y2": {"field": "hi"}}},
    {"data": {"name": "box"}, "transform": [{"filter": "datum.p == 'A'"}], "mark": {"type": "tick", "size": 17, "thickness": 2.5, "color": "black", "opacity": 1}, "encoding": {"y": {"field": "hi", "type": "quantitative", "title": "TSH(μIU/mL)", "scale": {"domain": [-2.5, 103], "nice": false, "zero": false}}}},
    {"data": {"name": "box"}, "transform": [{"filter": "datum.p == 'A'"}], "mark": {"type": "tick", "size": 43, "thickness": 2.5, "color": "black", "opacity": 1}, "encoding": {"y": {"field": "med", "type": "quantitative", "title": "TSH(μIU/mL)", "scale": {"domain": [-2.5, 103], "nice": false, "zero": false}}}},
    {"data": {"name": "A"}, "transform": [{"lookup": "c", "from": {"data": {"name": "plat"}, "key": "c", "fields": ["g"]}}, {"bin": {"step": 1.2}, "field": "v", "as": "b"}, {"window": [{"op": "row_number", "as": "rn"}], "groupby": ["c", "b"], "sort": [{"field": "v", "order": "ascending"}]}],
     "mark": {"type": "point", "filled": true, "stroke": "black", "strokeWidth": 1.1, "size": 65, "opacity": 1},
     "encoding": {"xOffset": {"field": "rn", "type": "ordinal", "scale": {"type": "point", "domain": [14,12,10,8,6,4,2,1,3,5,7,9,11,13,15]}}, "y": {"field": "v", "type": "quantitative", "title": "TSH(μIU/mL)", "scale": {"domain": [-2.5, 103], "nice": false, "zero": false}},
      "shape": {"field": "c", "type": "nominal", "legend": null, "scale": {"domain": ["AD","IM","DX","AU","MA","CO","AR","LI"], "range": ["circle","triangle-down","triangle-up","triangle-up","square","triangle-up","diamond","diamond"]}},
      "fill": {"field": "c", "type": "nominal", "legend": null, "scale": {"domain": ["AD","IM","DX","AU","MA","CO","AR","LI"], "range": ["#ffffff","#000000","#ffffff","#000000","#000000","#000000","#000000","#ffffff"]}}}},
    {"data": {"values": [{"t": "A"}]}, "mark": {"type": "text", "font": "Liberation Sans", "fontSize": 21, "align": "left", "baseline": "middle", "dx": -28, "color": "black"}, "encoding": {"x": {"datum": "ADVIA_CentaurXP"}, "y": {"datum": 93}, "text": {"field": "t"}}},
    {"data": {"values": [{"t": "a"}]}, "mark": {"type": "text", "font": "Liberation Serif", "fontSize": 10, "fontWeight": "bold", "align": "left", "baseline": "top", "dx": 23, "dy": 0, "color": "#222222"}, "encoding": {"x": {"datum": "Immulite_2000"}, "y": {"datum": -2.5}, "text": {"field": "t"}}}
   ]},
  {"width": 466, "height": 337,
   "encoding": {"x": {"field": "g", "type": "nominal", "title": "Platform", "scale": {"domain": ["ADVIA_CentaurXP","Immulite_2000","DXI_800","Autolumo_A2000plus","Maglumi_2000plus","Cobas_601","Architect_i2000sr","Liaison_XL"], "paddingInner": 0, "paddingOuter": 0.15}}},
   "layer": [
    {"data": {"name": "box"}, "transform": [{"filter": "datum.p == 'B'"}], "mark": {"type": "bar", "size": 43, "fill": "white", "stroke": "black", "strokeWidth": 2.5}, "encoding": {"y": {"field": "q1", "type": "quantitative", "title": "TSH(μIU/mL)", "scale": {"domain": [-2.5, 103], "nice": false, "zero": false}, "axis": {"values": [0,10,20,30,40,50,60,70,80,90,100], "labelExpr": "datum.value % 20 == 0 ? datum.label : ''", "tickSize": {"condition": {"test": "datum.value % 20 != 0", "value": 3}, "value": 6}, "gridOpacity": {"condition": {"test": "datum.value % 20 != 0", "value": 0}, "value": 1}}}, "y2": {"field": "q3"}}},
    {"data": {"name": "box"}, "transform": [{"filter": "datum.p == 'B'"}], "mark": {"type": "rule", "strokeWidth": 2.5, "color": "black"}, "encoding": {"y": {"field": "q3", "type": "quantitative", "title": "TSH(μIU/mL)", "scale": {"domain": [-2.5, 103], "nice": false, "zero": false}}, "y2": {"field": "hi"}}},
    {"data": {"name": "box"}, "transform": [{"filter": "datum.p == 'B'"}], "mark": {"type": "tick", "size": 17, "thickness": 2.5, "color": "black", "opacity": 1}, "encoding": {"y": {"field": "hi", "type": "quantitative", "title": "TSH(μIU/mL)", "scale": {"domain": [-2.5, 103], "nice": false, "zero": false}}}},
    {"data": {"name": "box"}, "transform": [{"filter": "datum.p == 'B'"}], "mark": {"type": "tick", "size": 43, "thickness": 2.5, "color": "black", "opacity": 1}, "encoding": {"y": {"field": "med", "type": "quantitative", "title": "TSH(μIU/mL)", "scale": {"domain": [-2.5, 103], "nice": false, "zero": false}}}},
    {"data": {"name": "B"}, "transform": [{"lookup": "c", "from": {"data": {"name": "plat"}, "key": "c", "fields": ["g"]}}, {"bin": {"step": 1.2}, "field": "v", "as": "b"}, {"window": [{"op": "row_number", "as": "rn"}], "groupby": ["c", "b"], "sort": [{"field": "v", "order": "ascending"}]}],
     "mark": {"type": "point", "filled": true, "stroke": "black", "strokeWidth": 1.1, "size": 65, "opacity": 1},
     "encoding": {"xOffset": {"field": "rn", "type": "ordinal", "scale": {"type": "point", "domain": [14,12,10,8,6,4,2,1,3,5,7,9,11,13,15]}}, "y": {"field": "v", "type": "quantitative", "title": "TSH(μIU/mL)", "scale": {"domain": [-2.5, 103], "nice": false, "zero": false}},
      "shape": {"field": "c", "type": "nominal", "legend": null, "scale": {"domain": ["AD","IM","DX","AU","MA","CO","AR","LI"], "range": ["circle","triangle-down","triangle-up","triangle-up","square","triangle-up","diamond","diamond"]}},
      "fill": {"field": "c", "type": "nominal", "legend": null, "scale": {"domain": ["AD","IM","DX","AU","MA","CO","AR","LI"], "range": ["#ffffff","#000000","#ffffff","#000000","#000000","#000000","#000000","#ffffff"]}}}},
    {"data": {"values": [{"t": "B"}]}, "mark": {"type": "text", "font": "Liberation Sans", "fontSize": 21, "align": "left", "baseline": "middle", "dx": -28, "color": "black"}, "encoding": {"x": {"datum": "ADVIA_CentaurXP"}, "y": {"datum": 93}, "text": {"field": "t"}}},
    {"data": {"values": [{"t": "a"}]}, "mark": {"type": "text", "font": "Liberation Serif", "fontSize": 10, "fontWeight": "bold", "align": "left", "baseline": "top", "dx": 23, "dy": 0, "color": "#222222"}, "encoding": {"x": {"datum": "Immulite_2000"}, "y": {"datum": -2.5}, "text": {"field": "t"}}}
   ]}
 ], "spacing": 8},
 {"hconcat": [
  {"width": 473, "height": 343,
   "encoding": {"x": {"field": "g", "type": "nominal", "title": "Platform", "scale": {"domain": ["ADVIA_CentaurXP","Immulite_2000","DXI_800","Autolumo_A2000plus","Maglumi_2000plus","Cobas_601","Architect_i2000sr","Liaison_XL"], "paddingInner": 0, "paddingOuter": 0.15}}},
   "layer": [
    {"data": {"name": "box"}, "transform": [{"filter": "datum.p == 'C'"}], "mark": {"type": "bar", "size": 43, "fill": "white", "stroke": "black", "strokeWidth": 2.5}, "encoding": {"y": {"field": "q1", "type": "quantitative", "title": "TSH(μIU/mL)", "scale": {"domain": [-1.9, 72], "nice": false, "zero": false}, "axis": {"values": [0,5,10,15,20,25,30,35,40,45,50,55,60,65,70], "labelExpr": "datum.value % 10 == 0 ? datum.label : ''", "tickSize": {"condition": {"test": "datum.value % 10 != 0", "value": 3}, "value": 6}, "gridOpacity": {"condition": {"test": "datum.value % 10 != 0", "value": 0}, "value": 1}}}, "y2": {"field": "q3"}}},
    {"data": {"name": "box"}, "transform": [{"filter": "datum.p == 'C'"}], "mark": {"type": "rule", "strokeWidth": 2.5, "color": "black"}, "encoding": {"y": {"field": "q3", "type": "quantitative", "title": "TSH(μIU/mL)", "scale": {"domain": [-1.9, 72], "nice": false, "zero": false}}, "y2": {"field": "hi"}}},
    {"data": {"name": "box"}, "transform": [{"filter": "datum.p == 'C'"}], "mark": {"type": "tick", "size": 17, "thickness": 2.5, "color": "black", "opacity": 1}, "encoding": {"y": {"field": "hi", "type": "quantitative", "title": "TSH(μIU/mL)", "scale": {"domain": [-1.9, 72], "nice": false, "zero": false}}}},
    {"data": {"name": "box"}, "transform": [{"filter": "datum.p == 'C'"}], "mark": {"type": "tick", "size": 43, "thickness": 2.5, "color": "black", "opacity": 1}, "encoding": {"y": {"field": "med", "type": "quantitative", "title": "TSH(μIU/mL)", "scale": {"domain": [-1.9, 72], "nice": false, "zero": false}}}},
    {"data": {"name": "C"}, "transform": [{"lookup": "c", "from": {"data": {"name": "plat"}, "key": "c", "fields": ["g"]}}, {"bin": {"step": 1.5}, "field": "v", "as": "b"}, {"window": [{"op": "row_number", "as": "rn"}], "groupby": ["c", "b"], "sort": [{"field": "v", "order": "ascending"}]}],
     "mark": {"type": "point", "filled": true, "stroke": "black", "strokeWidth": 1.1, "size": 65, "opacity": 1},
     "encoding": {"xOffset": {"field": "rn", "type": "ordinal", "scale": {"type": "point", "domain": [14,12,10,8,6,4,2,1,3,5,7,9,11,13,15]}}, "y": {"field": "v", "type": "quantitative", "title": "TSH(μIU/mL)", "scale": {"domain": [-1.9, 72], "nice": false, "zero": false}},
      "shape": {"field": "c", "type": "nominal", "legend": null, "scale": {"domain": ["AD","IM","DX","AU","MA","CO","AR","LI"], "range": ["circle","triangle-down","triangle-up","triangle-up","square","triangle-up","diamond","diamond"]}},
      "fill": {"field": "c", "type": "nominal", "legend": null, "scale": {"domain": ["AD","IM","DX","AU","MA","CO","AR","LI"], "range": ["#ffffff","#000000","#ffffff","#000000","#000000","#000000","#000000","#ffffff"]}}}},
    {"data": {"values": [{"t": "C"}]}, "mark": {"type": "text", "font": "Liberation Sans", "fontSize": 21, "align": "left", "baseline": "middle", "dx": -28, "color": "black"}, "encoding": {"x": {"datum": "ADVIA_CentaurXP"}, "y": {"datum": 65.8}, "text": {"field": "t"}}}
   ]},
  {"width": 466, "height": 343,
   "encoding": {"x": {"field": "g", "type": "nominal", "title": "Platform", "scale": {"domain": ["ADVIA_CentaurXP","Immulite_2000","DXI_800","Autolumo_A2000plus","Maglumi_2000plus","Cobas_601","Architect_i2000sr","Liaison_XL"], "paddingInner": 0, "paddingOuter": 0.15}}},
   "layer": [
    {"data": {"name": "box"}, "transform": [{"filter": "datum.p == 'D'"}], "mark": {"type": "bar", "size": 43, "fill": "white", "stroke": "black", "strokeWidth": 2.5}, "encoding": {"y": {"field": "q1", "type": "quantitative", "title": "TSH(μIU/mL)", "scale": {"domain": [-1.9, 72], "nice": false, "zero": false}, "axis": {"values": [0,5,10,15,20,25,30,35,40,45,50,55,60,65,70], "labelExpr": "datum.value % 10 == 0 ? datum.label : ''", "tickSize": {"condition": {"test": "datum.value % 10 != 0", "value": 3}, "value": 6}, "gridOpacity": {"condition": {"test": "datum.value % 10 != 0", "value": 0}, "value": 1}}}, "y2": {"field": "q3"}}},
    {"data": {"name": "box"}, "transform": [{"filter": "datum.p == 'D'"}], "mark": {"type": "rule", "strokeWidth": 2.5, "color": "black"}, "encoding": {"y": {"field": "q3", "type": "quantitative", "title": "TSH(μIU/mL)", "scale": {"domain": [-1.9, 72], "nice": false, "zero": false}}, "y2": {"field": "hi"}}},
    {"data": {"name": "box"}, "transform": [{"filter": "datum.p == 'D'"}], "mark": {"type": "tick", "size": 17, "thickness": 2.5, "color": "black", "opacity": 1}, "encoding": {"y": {"field": "hi", "type": "quantitative", "title": "TSH(μIU/mL)", "scale": {"domain": [-1.9, 72], "nice": false, "zero": false}}}},
    {"data": {"name": "box"}, "transform": [{"filter": "datum.p == 'D'"}], "mark": {"type": "tick", "size": 43, "thickness": 2.5, "color": "black", "opacity": 1}, "encoding": {"y": {"field": "med", "type": "quantitative", "title": "TSH(μIU/mL)", "scale": {"domain": [-1.9, 72], "nice": false, "zero": false}}}},
    {"data": {"name": "D"}, "transform": [{"lookup": "c", "from": {"data": {"name": "plat"}, "key": "c", "fields": ["g"]}}, {"bin": {"step": 1.5}, "field": "v", "as": "b"}, {"window": [{"op": "row_number", "as": "rn"}], "groupby": ["c", "b"], "sort": [{"field": "v", "order": "ascending"}]}],
     "mark": {"type": "point", "filled": true, "stroke": "black", "strokeWidth": 1.1, "size": 65, "opacity": 1},
     "encoding": {"xOffset": {"field": "rn", "type": "ordinal", "scale": {"type": "point", "domain": [14,12,10,8,6,4,2,1,3,5,7,9,11,13,15]}}, "y": {"field": "v", "type": "quantitative", "title": "TSH(μIU/mL)", "scale": {"domain": [-1.9, 72], "nice": false, "zero": false}},
      "shape": {"field": "c", "type": "nominal", "legend": null, "scale": {"domain": ["AD","IM","DX","AU","MA","CO","AR","LI"], "range": ["circle","triangle-down","triangle-up","triangle-up","square","triangle-up","diamond","diamond"]}},
      "fill": {"field": "c", "type": "nominal", "legend": null, "scale": {"domain": ["AD","IM","DX","AU","MA","CO","AR","LI"], "range": ["#ffffff","#000000","#ffffff","#000000","#000000","#000000","#000000","#ffffff"]}}}},
    {"data": {"values": [{"t": "D"}]}, "mark": {"type": "text", "font": "Liberation Sans", "fontSize": 21, "align": "left", "baseline": "middle", "dx": -28, "color": "black"}, "encoding": {"x": {"datum": "ADVIA_CentaurXP"}, "y": {"datum": 65.8}, "text": {"field": "t"}}}
   ]}
 ], "spacing": 8}
],
"spacing": 18
}
